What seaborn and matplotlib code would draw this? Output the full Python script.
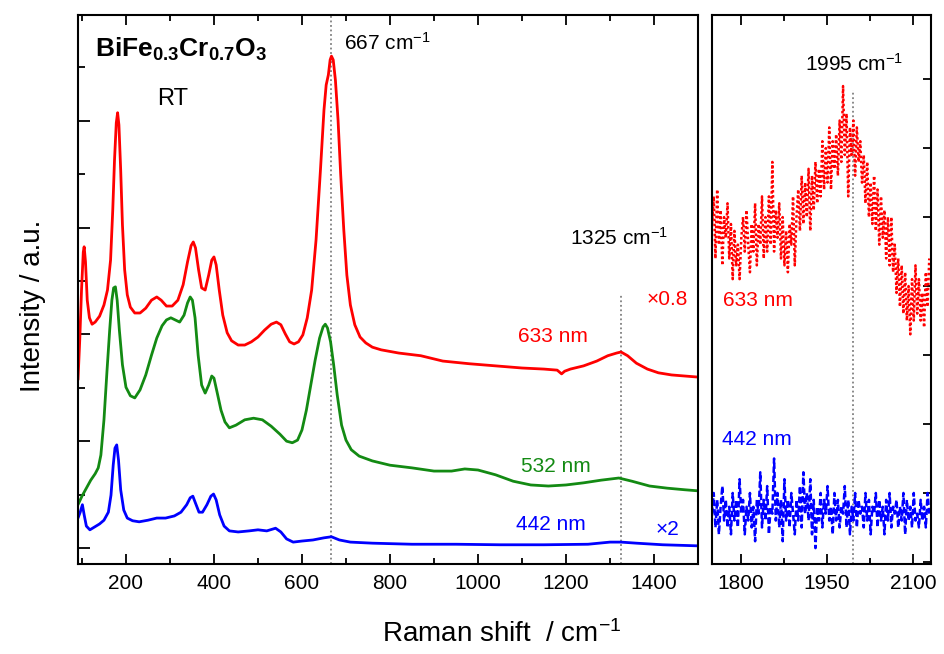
import numpy as np
import pandas as pd
import seaborn as sns
import matplotlib
matplotlib.use("Agg")
import matplotlib.pyplot as plt
from matplotlib.ticker import MultipleLocator, NullLocator

# ---------------- data: low-wavenumber window (cm^-1, arb. units) ----------------
red_shift = [91, 95, 99, 103, 105, 108, 112, 117, 123, 130, 140, 150, 158, 165, 170, 174,
             178, 181, 184, 188, 192, 197, 203, 210, 220, 232, 245, 258, 270, 280, 292, 305,
             318, 330, 340, 348, 353, 358, 365, 372, 380, 388, 395, 400, 405, 412, 420, 430,
             440, 455, 470, 485, 500, 515, 530, 542, 552, 562, 572, 582, 592, 602, 612, 622,
             632, 642, 650, 655, 660, 664, 667, 671, 676, 682, 688, 695, 702, 710, 720, 732,
             745, 760, 780, 820, 870, 920, 980, 1040, 1100, 1150, 1180, 1190, 1197, 1210,
             1240, 1270, 1295, 1315, 1325, 1340, 1360, 1385, 1410, 1440, 1470, 1500]
red_int = [3.15, 3.90, 4.83, 5.54, 5.64, 5.36, 4.64, 4.31, 4.19, 4.23, 4.34, 4.55, 4.83, 5.39,
           6.33, 7.27, 7.96, 8.15, 7.92, 7.08, 6.05, 5.21, 4.74, 4.51, 4.40, 4.40, 4.49, 4.64,
           4.70, 4.64, 4.53, 4.53, 4.64, 4.93, 5.36, 5.66, 5.73, 5.62, 5.21, 4.87, 4.83, 5.11,
           5.39, 5.45, 5.30, 4.83, 4.36, 4.03, 3.88, 3.80, 3.80, 3.86, 3.95, 4.08, 4.19, 4.23,
           4.18, 4.01, 3.86, 3.82, 3.86, 3.99, 4.31, 4.83, 5.77, 7.08, 8.20, 8.67, 8.86, 9.14,
           9.21, 9.14, 8.76, 8.01, 6.99, 5.96, 5.11, 4.55, 4.18, 3.95, 3.84, 3.76, 3.71, 3.65,
           3.60, 3.50, 3.45, 3.41, 3.37, 3.35, 3.33, 3.26, 3.31, 3.35, 3.41, 3.50, 3.60, 3.65,
           3.67, 3.60, 3.46, 3.35, 3.28, 3.24, 3.22, 3.20]

green_shift = [91, 100, 110, 120, 130, 137, 143, 150, 157, 163, 168, 172, 176, 180, 185, 192,
               200, 210, 220, 232, 245, 258, 270, 282, 292, 302, 312, 322, 332, 340, 346, 351,
               357, 364, 372, 380, 388, 395, 400, 407, 416, 425, 435, 450, 470, 490, 510, 530,
               550, 565, 578, 590, 600, 610, 620, 630, 640, 648, 653, 658, 665, 672, 680, 690,
               700, 712, 730, 760, 800, 850, 900, 940, 970, 1000, 1040, 1080, 1120, 1160, 1200,
               1240, 1280, 1320, 1350, 1390, 1430, 1470, 1500]
green_int = [0.81, 0.97, 1.12, 1.27, 1.39, 1.50, 1.74, 2.40, 3.33, 4.08, 4.64, 4.87, 4.89, 4.64,
             4.08, 3.43, 3.01, 2.85, 2.81, 2.96, 3.24, 3.61, 3.93, 4.16, 4.27, 4.31, 4.27, 4.23,
             4.36, 4.59, 4.70, 4.64, 4.31, 3.61, 3.05, 2.90, 3.05, 3.22, 3.18, 2.92, 2.58, 2.36,
             2.25, 2.30, 2.40, 2.43, 2.40, 2.28, 2.13, 2.00, 1.97, 2.02, 2.21, 2.58, 3.05, 3.52,
             3.93, 4.14, 4.19, 4.12, 3.86, 3.43, 2.87, 2.30, 2.02, 1.84, 1.72, 1.63, 1.55, 1.50,
             1.44, 1.44, 1.48, 1.46, 1.37, 1.25, 1.18, 1.16, 1.18, 1.22, 1.27, 1.31, 1.25, 1.16,
             1.12, 1.09, 1.07]

blue_shift = [91, 96, 101, 105, 110, 118, 128, 140, 150, 160, 166, 171, 175, 179, 183, 188, 195,
              203, 215, 230, 250, 270, 290, 310, 325, 338, 346, 352, 358, 366, 374, 384, 393,
              399, 405, 413, 423, 435, 455, 480, 500, 520, 540, 552, 565, 580, 600, 625, 650,
              667, 685, 710, 760, 850, 950, 1050, 1150, 1250, 1300, 1325, 1360, 1420, 1500]
blue_int = [0.56, 0.67, 0.81, 0.62, 0.41, 0.34, 0.39, 0.45, 0.52, 0.67, 0.99, 1.55, 1.87, 1.93,
            1.65, 1.09, 0.71, 0.56, 0.51, 0.49, 0.52, 0.56, 0.56, 0.60, 0.67, 0.81, 0.94, 0.97,
            0.84, 0.67, 0.67, 0.81, 0.97, 1.01, 0.90, 0.62, 0.41, 0.32, 0.30, 0.32, 0.34, 0.32,
            0.37, 0.30, 0.17, 0.11, 0.13, 0.15, 0.19, 0.21, 0.15, 0.11, 0.09, 0.07, 0.07, 0.06,
            0.06, 0.07, 0.11, 0.11, 0.09, 0.06, 0.04]

# ---------------- data: high-wavenumber window, sampled every 3 cm^-1 ----------------
hw_shift = np.arange(1750, 2129, 3)
hw_red = [4.9, 5.3, 4.4, 5.4, 4.6, 5.1, 4.3, 5.0, 4.7, 5.2,
          4.4, 4.9, 4.1, 4.8, 4.3, 4.6, 4.1, 4.7, 5.0, 4.5,
          5.1, 4.6, 4.2, 4.9, 4.5, 5.2, 4.3, 4.9, 4.6, 5.3,
          4.4, 5.0, 4.5, 5.3, 4.6, 5.8, 4.5, 5.1, 4.7, 5.2,
          4.4, 5.0, 4.3, 4.8, 4.2, 4.9, 4.6, 5.3, 4.3, 5.0,
          5.4, 4.8, 5.6, 4.9, 5.5, 5.0, 5.7, 4.8, 5.6, 5.1,
          5.8, 5.2, 5.7, 5.3, 6.1, 5.4, 6.0, 5.5, 6.3, 5.4,
          6.1, 5.7, 6.2, 5.6, 6.4, 5.8, 6.9, 5.9, 6.5, 5.3,
          6.3, 5.9, 6.4, 5.6, 6.3, 5.8, 6.1, 5.5, 5.9, 5.2,
          5.8, 5.0, 5.5, 4.9, 5.6, 4.8, 5.4, 4.6, 5.3, 4.7,
          5.1, 4.4, 5.0, 4.3, 5.0, 4.2, 4.6, 3.9, 4.4, 3.7,
          4.3, 3.6, 4.2, 3.5, 4.0, 3.3, 4.1, 3.5, 4.3, 3.6,
          4.1, 3.5, 3.9, 3.4, 4.2, 3.7, 4.4]
hw_blue = [0.7, 1.0, 0.5, 0.9, 0.4, 0.8, 1.1, 0.6, 0.9, 0.5,
           0.8, 0.4, 1.0, 0.6, 0.9, 0.5, 1.2, 0.7, 0.9, 0.4,
           0.8, 0.6, 1.0, 0.5, 0.8, 0.3, 0.9, 0.7, 1.3, 0.5,
           0.9, 0.6, 1.1, 0.4, 0.8, 0.7, 1.5, 0.6, 1.0, 0.5,
           0.9, 0.3, 1.2, 0.6, 0.9, 0.5, 1.0, 0.7, 0.4, 0.9,
           0.6, 1.1, 0.5, 1.3, 0.7, 1.0, 0.6, 1.2, 0.4, 0.9,
           0.2, 0.8, 0.6, 1.0, 0.5, 0.9, 0.7, 1.1, 0.6, 0.8,
           0.4, 1.0, 0.6, 0.9, 0.5, 0.8, 0.7, 1.1, 0.5, 0.9,
           0.4, 0.8, 0.6, 1.0, 0.5, 0.9, 0.7, 0.8, 0.5, 1.0,
           0.6, 0.9, 0.4, 0.8, 0.7, 1.0, 0.5, 0.9, 0.6, 0.8,
           0.4, 0.9, 0.6, 1.0, 0.5, 0.8, 0.7, 0.9, 0.5, 0.8,
           0.6, 1.0, 0.4, 0.9, 0.6, 0.8, 0.5, 1.0, 0.6, 0.7,
           0.5, 0.9, 0.6, 0.8, 0.5, 1.0, 0.7]

lasers = ["633 nm", "532 nm", "442 nm"]
colors = {"633 nm": "#ff0000", "532 nm": "#138a13", "442 nm": "#0000ff"}

# marked modes: position and upper end of the guide line
low_modes = [667, 1325]
low_mode_tops = [10.0, 4.74]
high_modes = [1995]
high_mode_tops = [6.84]

# ---------------- styling ----------------
sns.set_theme(style="ticks")
plt.rcParams["font.family"] = ["Liberation Sans", "DejaVu Sans"]
plt.rcParams["mathtext.fontset"] = "custom"
plt.rcParams["mathtext.rm"] = "Liberation Sans"
plt.rcParams["mathtext.it"] = "Liberation Sans:italic"
plt.rcParams["mathtext.bf"] = "Liberation Sans:bold"
plt.rcParams["axes.linewidth"] = 1.5
plt.rcParams["axes.edgecolor"] = "black"
plt.rcParams["text.color"] = "black"
plt.rcParams["axes.labelcolor"] = "black"
plt.rcParams["xtick.color"] = "black"
plt.rcParams["ytick.color"] = "black"
plt.rcParams["xtick.labelcolor"] = "black"
plt.rcParams["ytick.labelcolor"] = "black"

fig = plt.figure(figsize=(9.45, 6.54), dpi=100)
axL = fig.add_axes([78 / 945, 90 / 654, 620 / 945, 549 / 654])
axR = fig.add_axes([712 / 945, 90 / 654, 219 / 945, 549 / 654])

low = pd.concat([
    pd.DataFrame({"shift": red_shift, "intensity": red_int, "laser": "633 nm"}),
    pd.DataFrame({"shift": green_shift, "intensity": green_int, "laser": "532 nm"}),
    pd.DataFrame({"shift": blue_shift, "intensity": blue_int, "laser": "442 nm"}),
], ignore_index=True)

sns.lineplot(data=low, x="shift", y="intensity", hue="laser", hue_order=lasers,
             palette=colors, estimator=None, sort=False, legend=False,
             lw=2.0, ax=axL)

high_red = pd.DataFrame({"shift": hw_shift, "intensity": hw_red})
high_blue = pd.DataFrame({"shift": hw_shift, "intensity": hw_blue})
sns.lineplot(data=high_red, x="shift", y="intensity", color=colors["633 nm"],
             estimator=None, sort=False, lw=1.8, linestyle=(0, (1, 1)), ax=axR)
sns.lineplot(data=high_blue, x="shift", y="intensity", color=colors["442 nm"],
             estimator=None, sort=False, lw=1.8, linestyle=(0, (2.5, 1.2)), ax=axR)

# guide lines at the marked modes
axL.set_ylim(-0.3, 9.98)
axR.set_ylim(-0.03, 7.93)
axL.vlines(low_modes, -0.3, low_mode_tops, colors="0.5", linestyles=(0, (1, 1.5)), lw=1.3, zorder=0)
axR.vlines(high_modes, -0.03, high_mode_tops, colors="0.5", linestyles=(0, (1, 1.5)), lw=1.3, zorder=0)

axL.set_xlim(91, 1500)
axR.set_xlim(1750, 2131)

for ax in (axL, axR):
    ax.set_xlabel("")
    ax.set_ylabel("")
    for s in ax.spines.values():
        s.set_visible(True)
        s.set_linewidth(1.5)
        s.set_edgecolor("black")

axL.xaxis.set_major_locator(MultipleLocator(200))
axL.xaxis.set_minor_locator(MultipleLocator(100))
axL.yaxis.set_major_locator(MultipleLocator(2))
axL.yaxis.set_minor_locator(MultipleLocator(1))
axL.tick_params(axis="x", which="both", direction="in", top=True, bottom=True,
                labelsize=15, pad=7, width=1.3, colors="black")
axL.tick_params(axis="x", which="major", length=7)
axL.tick_params(axis="x", which="minor", length=4.5)
axL.tick_params(axis="y", which="both", direction="in", left=True, right=False,
                labelleft=False, width=1.3, colors="black")
axL.tick_params(axis="y", which="major", length=8.5)
axL.tick_params(axis="y", which="minor", length=5)

axR.xaxis.set_major_locator(MultipleLocator(150))
axR.xaxis.set_minor_locator(MultipleLocator(75))
axR.yaxis.set_major_locator(MultipleLocator(1))
axR.yaxis.set_minor_locator(NullLocator())
axR.tick_params(axis="x", which="both", direction="in", top=True, bottom=True,
                labelsize=15, pad=7, width=1.3, colors="black")
axR.tick_params(axis="x", which="major", length=7)
axR.tick_params(axis="x", which="minor", length=4.5)
axR.tick_params(axis="y", which="both", direction="in", left=False, right=True,
                labelleft=False, labelright=False, length=6, width=1.3, colors="black")

# annotations
fs = 15
axL.text(129, 9.19, r"$\mathbf{BiFe_{0.3}Cr_{0.7}O_3}$", fontsize=19, ha="left", va="baseline")
axL.text(270, 8.30, "RT", fontsize=17, ha="left", va="baseline")
axL.text(696, 9.33, r"667 cm$^{-1}$", fontsize=fs, ha="left", va="baseline")
axL.text(1209, 5.67, r"1325 cm$^{-1}$", fontsize=fs, ha="left", va="baseline")
axL.text(1384, 4.55, "×0.8", fontsize=fs, color=colors["633 nm"], ha="left", va="baseline")
axL.text(1092, 3.86, "633 nm", fontsize=fs, color=colors["633 nm"], ha="left", va="baseline")
axL.text(1098, 1.42, "532 nm", fontsize=fs, color=colors["532 nm"], ha="left", va="baseline")
axL.text(1087, 0.34, "442 nm", fontsize=fs, color=colors["442 nm"], ha="left", va="baseline")
axL.text(1404, 0.24, "×2", fontsize=fs, color=colors["442 nm"], ha="left", va="baseline")

axR.text(1912, 7.12, r"1995 cm$^{-1}$", fontsize=fs, ha="left", va="baseline")
axR.text(1769, 3.71, "633 nm", fontsize=fs, color=colors["633 nm"], ha="left", va="baseline")
axR.text(1767, 1.70, "442 nm", fontsize=fs, color=colors["442 nm"], ha="left", va="baseline")

fig.text(502 / 945, 1 - 634 / 654, r"Raman shift  / cm$^{-1}$", fontsize=20, ha="center", va="center")
fig.text(33 / 945, 1 - 306 / 654, "Intensity / a.u.", fontsize=20, rotation=90, ha="center", va="center")

fig.savefig("out.png", dpi=100)
